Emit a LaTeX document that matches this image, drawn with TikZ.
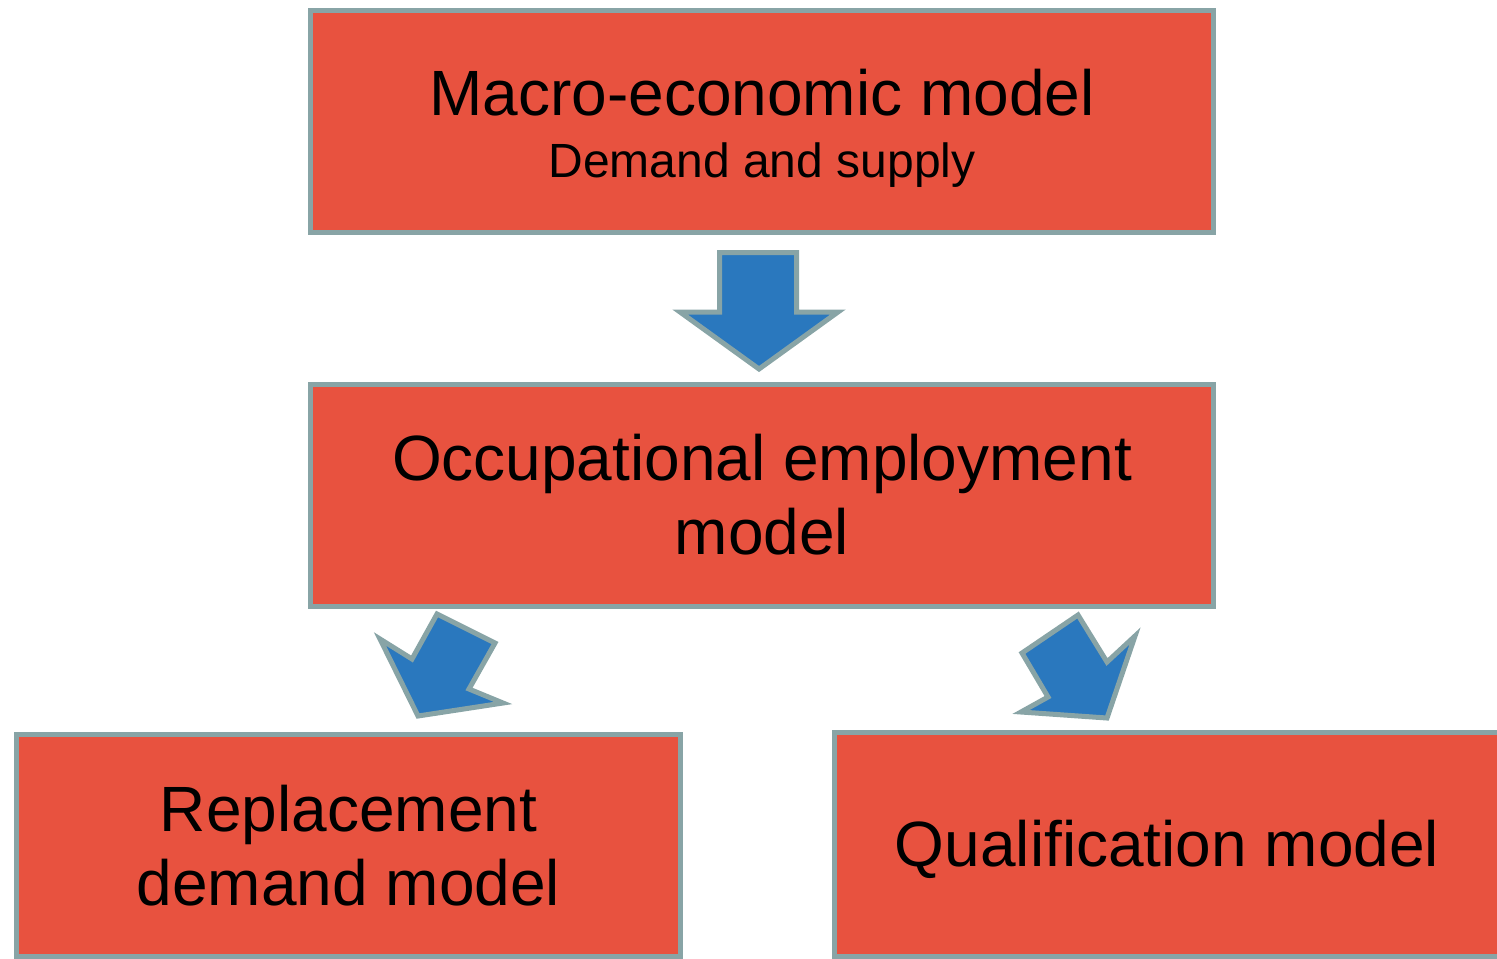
\documentclass[tikz,border=0pt]{standalone}
\usepackage{fontspec}
\setmainfont{Liberation Sans}

\definecolor{boxfill}{HTML}{E8523F}
\definecolor{boxedge}{HTML}{88A4A6}
\definecolor{arrowfill}{HTML}{2A78BE}

\newcommand{\bigfont}{\fontsize{32}{37}\selectfont}
\newcommand{\subfont}{\fontsize{24}{28}\selectfont}

\tikzset{
  modelbox/.style={draw=boxedge, fill=boxfill, line width=2.5pt, inner sep=0pt,
    align=center, font=\bigfont, minimum width=451.5pt, minimum height=111pt},
  blockarrow/.style={draw=boxedge, fill=arrowfill, line width=2.5pt, line join=miter},
}

\begin{document}
\begin{tikzpicture}[x=0.5pt,y=-0.5pt]
\useasboundingbox (0,0) rectangle (1497,958);

% the four models
\node[modelbox] (macro) at (762,121.5) {\rule{0pt}{29.5pt}Macro-economic model\\[-6pt]{\subfont Demand and supply}};
\node[modelbox] (occup) at (762,495) {Occupational employment\\model};
\node[modelbox, minimum width=332pt] (replace) at (348.5,845.5) {Replacement\\demand model};
\node[modelbox, minimum width=332.5pt, minimum height=111.75pt] (qualif) at (1167,844.25) {\rule{0pt}{28.5pt}Qualification model};

% block arrows between them
\draw[blockarrow] (719.5,252.5) -- (796.5,252.5) -- (796.5,312) -- (838,312)
  -- (759,369) -- (680,312) -- (719.5,312) -- cycle;
\draw[blockarrow] (437,614) -- (495,643) -- (469,689) -- (503,703)
  -- (418,716) -- (380,639) -- (412,659) -- cycle;
\draw[blockarrow] (1022,653) -- (1078,615) -- (1107,662) -- (1135,636)
  -- (1107,718) -- (1021,712) -- (1048,697) -- cycle;
%\draw[blockarrow] (occup) -- (replace);
\end{tikzpicture}
\end{document}
